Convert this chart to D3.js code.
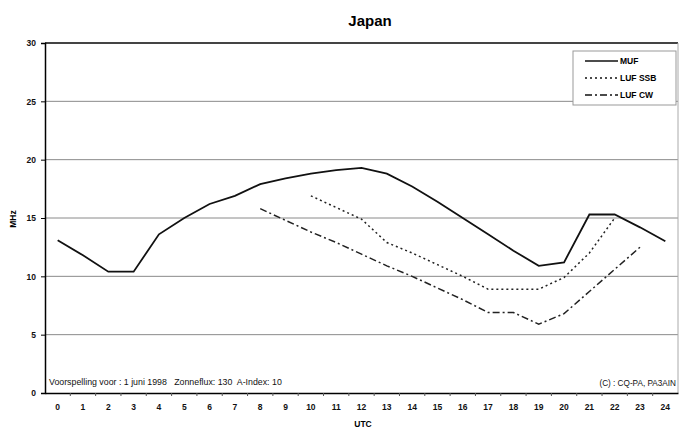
<!DOCTYPE html>
<html><head><meta charset="utf-8">
<script src="https://cdn.jsdelivr.net/npm/d3@7/dist/d3.min.js"></script>
<style>body{margin:0;background:#fff}svg{display:block}text{font-family:"Liberation Sans",Arial,sans-serif}</style>
</head><body><svg id="c" width="681" height="430"></svg>
<script>
const hours = d3.range(0, 25).map(String);
const mufValues = [13.1,11.8,10.4,10.4,13.6,15.0,16.2,16.9,17.9,18.4,18.8,19.1,19.3,18.8,17.7,16.4,15.0,13.6,12.2,10.9,11.2,15.3,15.3,14.2,13.0];
const lufSsbValues = [null,null,null,null,null,null,null,null,null,null,16.9,15.9,14.9,12.9,12.0,11.0,10.0,8.9,8.9,8.9,9.9,12.0,15.0,null,null];
const lufCwValues = [null,null,null,null,null,null,null,null,15.8,14.8,13.8,12.9,11.9,10.9,10.0,9.0,8.0,6.9,6.9,5.9,6.8,8.7,10.6,12.5,null];
const yTicks = [0,5,10,15,20,25,30];
const seriesNames = ["MUF","LUF SSB","LUF CW"];
const titleText = "Japan";
const xTitle = "UTC", yTitle = "MHz";
const noteLeft = "Voorspelling voor : 1 juni 1998   Zonneflux: 130  A-Index: 10";
const noteRight = "(C) : CQ-PA, PA3AIN";

const svg = d3.select("#c");
const L = 45, R = 678, T = 43, B = 393;
const x = d3.scaleBand().domain(hours).range([L, R]);
const y = d3.scaleLinear().domain([0, 30]).range([B, T]);
const cx = h => x(h) + x.bandwidth() / 2;

// gridlines
svg.append("g").selectAll("line").data(yTicks.filter(v => v > 0 && v < 30)).join("line")
  .attr("x1", L).attr("x2", R).attr("y1", d => y(d)).attr("y2", d => y(d))
  .attr("stroke", "#8a8a8a").attr("stroke-width", 1);
// frame
svg.append("line").attr("x1", L).attr("x2", R).attr("y1", y(30)).attr("y2", y(30)).attr("stroke", "#444").attr("stroke-width", 2);
svg.append("line").attr("x1", R).attr("x2", R).attr("y1", T).attr("y2", B).attr("stroke", "#aaa").attr("stroke-width", 1);

// y axis
const ya = svg.append("g").attr("transform", `translate(${L},0)`)
  .call(d3.axisLeft(y).tickValues(yTicks).tickSize(4).tickPadding(5));
ya.select(".domain").attr("stroke", "#000").attr("stroke-width", 1.5);
ya.selectAll("text").attr("font-size", 8.5).attr("font-weight", "bold").attr("fill", "#111");

// x axis
const xa = svg.append("g").attr("transform", `translate(0,${B})`)
  .call(d3.axisBottom(x).tickSize(0).tickPadding(11));
xa.select(".domain").attr("stroke", "#000").attr("stroke-width", 1.5);
xa.selectAll("text").attr("font-size", 8.5).attr("font-weight", "bold").attr("fill", "#111");
svg.append("g").selectAll("line").data(hours.slice(1)).join("line")
  .attr("x1", d => x(d)).attr("x2", d => x(d)).attr("y1", B).attr("y2", B + 3)
  .attr("stroke", "#555");

// lines
const mk = vals => d3.line().defined(d => d != null).x((d, i) => cx(hours[i])).y(d => y(d))(vals);
svg.append("path").attr("d", mk(mufValues)).attr("fill", "none").attr("stroke", "#111").attr("stroke-width", 1.8);
svg.append("path").attr("d", mk(lufSsbValues)).attr("fill", "none").attr("stroke", "#222").attr("stroke-width", 1.5).attr("stroke-dasharray", "2,3");
svg.append("path").attr("d", mk(lufCwValues)).attr("fill", "none").attr("stroke", "#222").attr("stroke-width", 1.5).attr("stroke-dasharray", "7,3,2,3");

// legend
const lg = svg.append("g");
lg.append("rect").attr("x", 573).attr("y", 51).attr("width", 103).attr("height", 54)
  .attr("fill", "#fff").attr("stroke", "#999").attr("stroke-width", 1);
const dashes = [null, "2,3", "7,3,2,3"];
seriesNames.forEach((n, i) => {
  const yy = 61 + i * 17;
  lg.append("line").attr("x1", 585).attr("x2", 618).attr("y1", yy).attr("y2", yy)
    .attr("stroke", "#111").attr("stroke-width", 1.6).attr("stroke-dasharray", dashes[i]);
  lg.append("text").attr("x", 620).attr("y", yy + 3).attr("font-size", 8.5).attr("font-weight", "bold").text(n);
});

// texts
svg.append("text").attr("x", 370).attr("y", 26).attr("text-anchor", "middle").attr("font-size", 15).attr("font-weight", "bold").text(titleText);
svg.append("text").attr("x", 363).attr("y", 427).attr("text-anchor", "middle").attr("font-size", 8.5).attr("font-weight", "bold").text(xTitle);
svg.append("text").attr("transform", "translate(16,219) rotate(-90)").attr("text-anchor", "middle").attr("font-size", 8.5).attr("font-weight", "bold").text(yTitle);
svg.append("text").attr("x", 49).attr("y", 385).attr("font-size", 8.8).attr("fill", "#111").style("white-space","pre").text(noteLeft);
svg.append("text").attr("x", 676).attr("y", 386).attr("text-anchor", "end").attr("font-size", 8.2).attr("fill", "#111").text(noteRight);
</script></body></html>
